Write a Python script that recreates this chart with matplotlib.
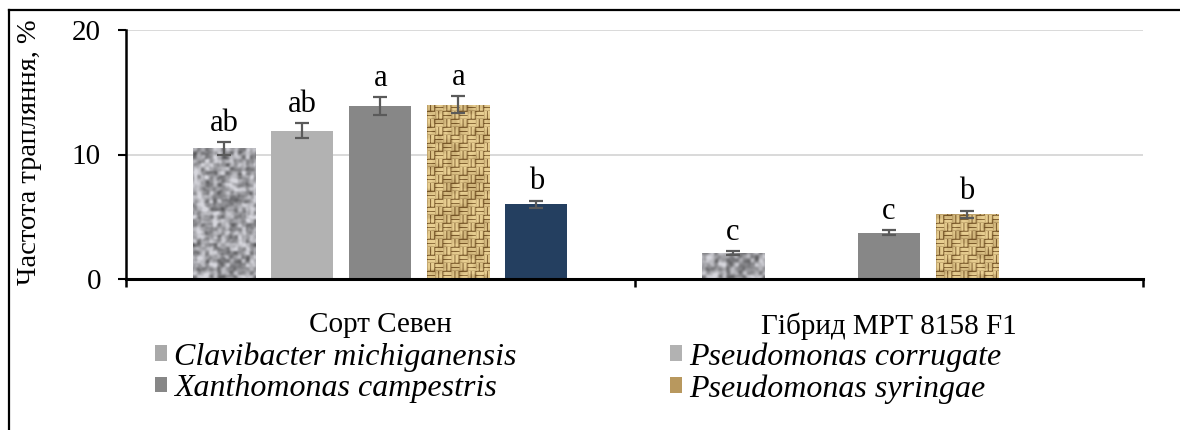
import numpy as np
import matplotlib
matplotlib.use("Agg")
import matplotlib.pyplot as plt
from matplotlib.patches import Patch
from matplotlib.lines import Line2D

# ---------------- data ----------------
categories = ["Сорт Севен", "Гібрид МРТ 8158 F1"]
series_names = ["Clavibacter michiganensis", "Pseudomonas corrugate",
                "Xanthomonas campestris", "Pseudomonas syringae", "_fifth"]
clavibacter = [10.5, 2.1]
corrugate = [11.9, np.nan]
xanthomonas = [13.9, 3.7]
syringae = [14.0, 5.2]
fifth = [6.0, np.nan]

clavibacter_err = [0.5, 0.15]
corrugate_err = [0.6, np.nan]
xanthomonas_err = [0.7, 0.2]
syringae_err = [0.7, 0.3]
fifth_err = [0.3, np.nan]

clavibacter_lbl = ["ab", "c"]
corrugate_lbl = ["ab", ""]
xanthomonas_lbl = ["a", "c"]
syringae_lbl = ["a", "b"]
fifth_lbl = ["b", ""]

yticks = [0, 10, 20]
ylabel = "Частота трапляння, %"

values = [clavibacter, corrugate, xanthomonas, syringae, fifth]
errors = [clavibacter_err, corrugate_err, xanthomonas_err, syringae_err, fifth_err]
letters = [clavibacter_lbl, corrugate_lbl, xanthomonas_lbl, syringae_lbl, fifth_lbl]

# ---------------- textures (styling only) ----------------
def hashnoise(h, w, seed):
    yy, xx = np.mgrid[0:h, 0:w].astype(float)
    v = np.sin(xx * 12.9898 + yy * 78.233 + seed * 37.719) * 43758.5453
    return v - np.floor(v)

def blur(a, k=2):
    out = a.copy()
    for _ in range(k):
        out = (out + np.roll(out, 1, 0) + np.roll(out, -1, 0) +
               np.roll(out, 1, 1) + np.roll(out, -1, 1)) / 5.0
    return out

def norm(a):
    return (a - a.min()) / (a.max() - a.min())

def granite(h, w):
    lo = np.kron(hashnoise(h // 4 + 1, w // 4 + 1, 1.0), np.ones((4, 4)))[:h, :w]
    mid = np.kron(hashnoise(h // 2 + 1, w // 2 + 1, 2.0), np.ones((2, 2)))[:h, :w]
    fine = hashnoise(h, w, 3.0)
    n = norm(blur(0.55 * lo + 0.3 * mid + 0.15 * fine, 3))
    g = np.clip(0.33 + 0.55 * n ** 0.9, 0.32, 0.84)
    img = np.stack([g, g, g * 1.03], axis=-1)
    return np.clip(img, 0, 1)

def burlap(h, w):
    yy, xx = np.mgrid[0:h, 0:w]
    cell = 8
    ci, cj = yy // cell, xx // cell
    ry, rx = yy % cell, xx % cell
    horiz = (ci + cj) % 2 == 0
    thread = np.where(horiz, (ry % 4 != 3), (rx % 4 != 3)).astype(float)
    border = ((ry == 0) | (rx == 0)).astype(float)
    lo = np.kron(hashnoise(h // 5 + 1, w // 5 + 1, 4.0), np.ones((5, 5)))[:h, :w]
    n = norm(blur(lo, 3))
    light = np.array([0.91, 0.81, 0.57])
    dark = np.array([0.46, 0.33, 0.15])
    t = np.clip(0.8 * thread - 0.25 * border + 0.35 * n - 0.05, 0, 1)[..., None]
    return np.clip(dark + (light - dark) * t, 0, 1)

# ---------------- figure ----------------
plt.rcParams['font.family'] = ['Liberation Serif', 'DejaVu Serif']
W, H = 1180, 430
fig = plt.figure(figsize=(W / 100, H / 100), dpi=100)
ax = fig.add_axes([126 / W, 1 - 279 / H, (1143 - 126) / W, (279 - 30) / H])

colors = [None, "#b2b2b2", "#878787", None, "#243f60"]
textures = [granite, None, None, burlap, None]
legend_colors = ["#a9a9a9", "#b2b2b2", "#878787", "#b8985e", "#243f60"]

x = np.arange(len(categories))
step = 0.1534
bw = 0.122
FS = 21

for i in range(5):
    pos = x + (i - 2) * step
    vals = np.array(values[i], dtype=float)
    errs = np.array(errors[i], dtype=float)
    fc = colors[i] if colors[i] else legend_colors[i]
    bars = ax.bar(pos, vals, width=bw, color=fc, zorder=2)
    if textures[i] is not None:
        for b, v in zip(bars, vals):
            if np.isnan(v):
                continue
            x0 = b.get_x()
            tex = textures[i](250, 62)
            im = ax.imshow(tex, extent=[x0, x0 + bw, 0, 20], aspect='auto',
                           interpolation='bilinear', zorder=2.5, origin='lower')
            im.set_clip_path(b)
    ax.errorbar(pos, vals, yerr=errs, fmt='none', ecolor="#5a5a5a",
                elinewidth=1.6, capsize=5, capthick=1.6, zorder=3)
    for p, v, e, t in zip(pos, vals, errs, letters[i]):
        if np.isnan(v) or not t:
            continue
        ax.annotate(t, (p, v + e), xytext=(0, 8), textcoords='offset points',
                    ha='center', va='baseline', fontsize=22)

ax.set_xlim(-0.5, 1.5)
ax.set_ylim(0, 20)
ax.set_yticks(yticks)
ax.yaxis.grid(True, color="#d9d9d9", linewidth=1.4, zorder=0)
ax.set_axisbelow(True)
ax.tick_params(axis='y', labelsize=FS, length=6, width=1.5, pad=12, direction='out')
ax.set_xticks(x)
ax.set_xticklabels(categories, fontsize=FS)
ax.tick_params(axis='x', which='major', length=0, pad=24)
ax.set_xticks([-0.5, 0.5, 1.5], minor=True)
ax.tick_params(axis='x', which='minor', length=6, width=1.8, direction='out')
for s in ['top', 'right']:
    ax.spines[s].set_visible(False)
ax.spines['bottom'].set_linewidth(2.2)
ax.spines['left'].set_linewidth(1.8)

fig.text(30 / W, 1 - 152 / H, ylabel, rotation=90, ha='center', va='center', fontsize=20.5)

# legend
order = [0, 2, 1, 3]
handles = [Patch(facecolor=legend_colors[k], edgecolor='none') for k in order]
labels = [series_names[k] for k in order]
leg = fig.legend(handles, labels, ncol=2, loc='upper left',
                 bbox_to_anchor=(155 / W, 1 - 342 / H), frameon=False,
                 prop={'family': 'Liberation Serif', 'style': 'italic', 'size': 23},
                 handlelength=0.38, handleheight=0.38, handletextpad=0.22,
                 labelspacing=0.08, columnspacing=4.8, borderaxespad=0, borderpad=0)

# outer border (left & top visible)
fig.add_artist(Line2D([9 / W, 9 / W], [0, 1 - 10 / H], color='black', lw=1.6,
                      transform=fig.transFigure))
fig.add_artist(Line2D([9 / W, 1], [1 - 10 / H, 1 - 10 / H], color='black', lw=1.6,
                      transform=fig.transFigure))

fig.savefig("out.png", dpi=100)
